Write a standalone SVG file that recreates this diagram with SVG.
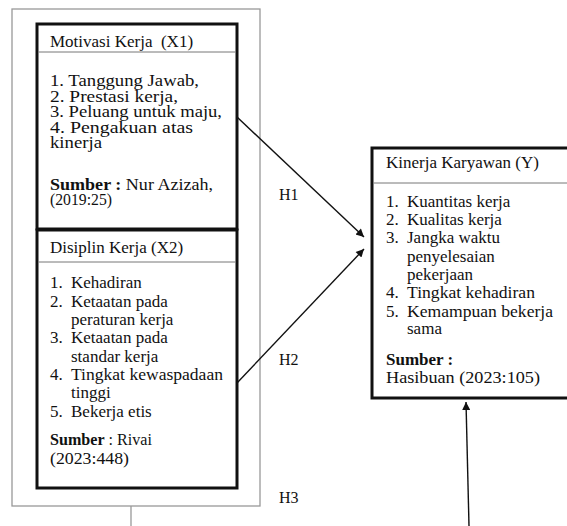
<svg xmlns="http://www.w3.org/2000/svg" width="567" height="526" viewBox="0 0 567 526">
<style>
text{font-family:"Liberation Serif","Times New Roman",serif;font-size:17px;fill:#111;white-space:pre}
.b{font-weight:bold}
.box{fill:#fff;stroke:#111;stroke-width:3}
.div{stroke:#777;stroke-width:1}
.outer{fill:none;stroke:#999;stroke-width:1.3}
.conn{stroke:#111;stroke-width:1.4;fill:none}
.lbl{font-size:16px}
</style>
<defs>
<marker id="ah" viewBox="0 0 10 10" refX="10" refY="5" markerWidth="10" markerHeight="8" markerUnits="userSpaceOnUse" orient="auto">
<path d="M0,0 L10,5 L0,10 z" fill="#111"/>
</marker>
</defs>
<rect class="outer" x="12" y="9" width="248" height="497"/>
<line class="outer" x1="131" y1="506" x2="131" y2="526"/>
<g id="x1">
<rect class="box" x="37" y="24" width="200" height="205"/>
<line class="div" x1="38.5" y1="52" x2="235.5" y2="52"/>
<text x="50" y="47">Motivasi Kerja  (X1)</text>
<text x="50" y="86" textLength="149" lengthAdjust="spacingAndGlyphs">1. Tanggung Jawab,</text>
<text x="50" y="101.5" textLength="128" lengthAdjust="spacingAndGlyphs">2. Prestasi kerja,</text>
<text x="50" y="117" textLength="172" lengthAdjust="spacingAndGlyphs">3. Peluang untuk maju,</text>
<text x="50" y="132.5" textLength="143" lengthAdjust="spacingAndGlyphs">4. Pengakuan atas</text>
<text x="50" y="147.5" textLength="52" lengthAdjust="spacingAndGlyphs">kinerja</text>
<text x="50" y="190" textLength="163" lengthAdjust="spacingAndGlyphs"><tspan class="b">Sumber :</tspan> Nur Azizah,</text>
<text x="50" y="205" textLength="62" lengthAdjust="spacingAndGlyphs">(2019:25)</text>
</g>
<g id="x2">
<rect class="box" x="37" y="230" width="200" height="258"/>
<line class="div" x1="38.5" y1="262" x2="235.5" y2="262"/>
<text x="50" y="253">Disiplin Kerja (X2)</text>
<text x="50" y="288">1.</text><text x="71" y="288">Kehadiran</text>
<text x="50" y="307">2.</text><text x="71" y="307">Ketaatan pada</text>
<text x="71" y="325">peraturan kerja</text>
<text x="50" y="343">3.</text><text x="71" y="343">Ketaatan pada</text>
<text x="71" y="362">standar kerja</text>
<text x="50" y="380">4.</text><text x="71" y="380" textLength="152" lengthAdjust="spacingAndGlyphs">Tingkat kewaspadaan</text>
<text x="71" y="398">tinggi</text>
<text x="50" y="417">5.</text><text x="71" y="417">Bekerja etis</text>
<text x="50" y="445" textLength="102" lengthAdjust="spacingAndGlyphs"><tspan class="b">Sumber</tspan> : Rivai</text>
<text x="50" y="464" textLength="79" lengthAdjust="spacingAndGlyphs">(2023:448)</text>
</g>
<g id="y">
<rect class="box" x="372" y="148" width="200" height="250"/>
<line class="div" x1="373.5" y1="183" x2="567" y2="183"/>
<text x="386" y="168">Kinerja Karyawan (Y)</text>
<text x="386" y="207">1.</text><text x="407" y="207">Kuantitas kerja</text>
<text x="386" y="225">2.</text><text x="407" y="225">Kualitas kerja</text>
<text x="386" y="243">3.</text><text x="407" y="243">Jangka waktu</text>
<text x="407" y="262">penyelesaian</text>
<text x="407" y="280">pekerjaan</text>
<text x="386" y="298">4.</text><text x="407" y="298" textLength="128" lengthAdjust="spacingAndGlyphs">Tingkat kehadiran</text>
<text x="386" y="317">5.</text><text x="407" y="317" textLength="146" lengthAdjust="spacingAndGlyphs">Kemampuan bekerja</text>
<text x="407" y="334">sama</text>
<text x="386" y="365" class="b">Sumber :</text>
<text x="386" y="383" textLength="154" lengthAdjust="spacingAndGlyphs">Hasibuan (2023:105)</text>
</g>
<g id="connectors">
<line class="conn" x1="237" y1="117" x2="364" y2="237" marker-end="url(#ah)"/>
<line class="conn" x1="237" y1="383" x2="364" y2="249" marker-end="url(#ah)"/>
<line class="conn" x1="469" y1="526" x2="466" y2="402" marker-end="url(#ah)"/>
<text class="lbl" x="279" y="200">H1</text>
<text class="lbl" x="279" y="365">H2</text>
<text class="lbl" x="279" y="503">H3</text>
</g>
</svg>
